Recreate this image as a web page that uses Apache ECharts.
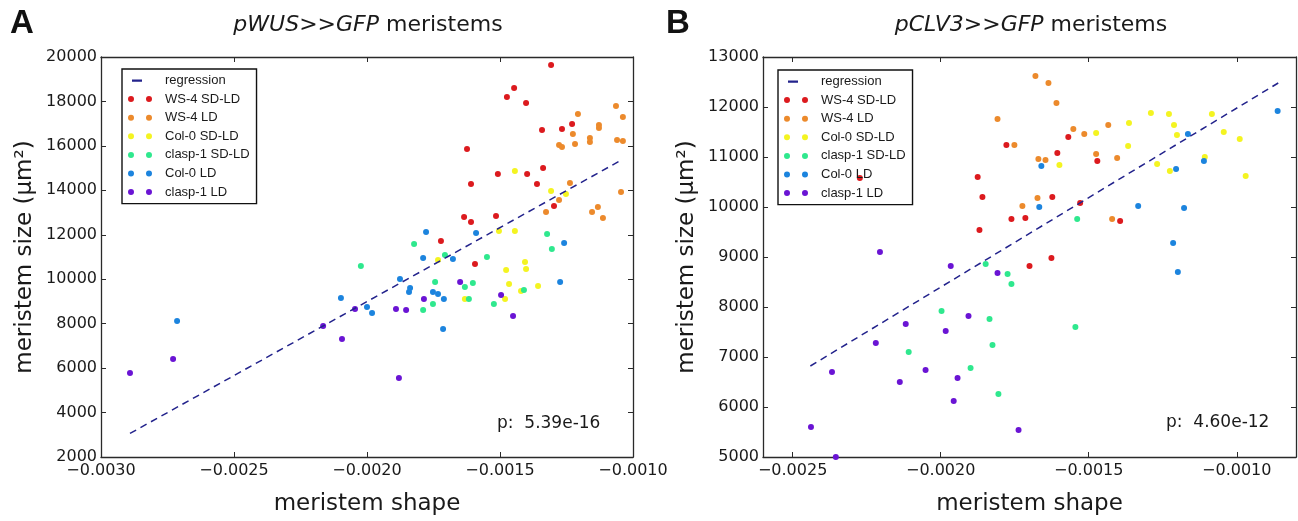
<!DOCTYPE html>
<html>
<head>
<meta charset="utf-8">
<script src="https://cdn.jsdelivr.net/npm/echarts@6/dist/echarts.min.js"></script>
<style>
  html, body { margin: 0; padding: 0; background: #ffffff; }
  #chart { width: 1298px; height: 521px; }
</style>
</head>
<body>
<div id="chart"></div>
<script>
// ---------- data: [meristem shape, meristem size (µm²)] ----------
const seriesNames = ['WS-4 SD-LD', 'WS-4 LD', 'Col-0 SD-LD', 'clasp-1 SD-LD', 'Col-0 LD', 'clasp-1 LD'];
const seriesColors = ['#dc1a1e', '#ec8a2c', '#f4f421', '#2fe88e', '#1c84de', '#6a14d4'];
const regressionColor = '#23238c';

// pWUS>>GFP meristems
const wusWs4SdLd = [[-0.001308,19640],[-0.001447,18605],[-0.001474,18200],[-0.001402,17930],[-0.001229,16985],[-0.001342,16715],[-0.001267,16760],[-0.001624,15860],[-0.001508,14735],[-0.001398,14735],[-0.001338,15005],[-0.001609,14285],[-0.001361,14285],[-0.001297,13295],[-0.001635,12800],[-0.001609,12575],[-0.001515,12845],[-0.001722,11720],[-0.001594,10685]];
const wusWs4Ld = [[-0.001064,17795],[-0.001207,17435],[-0.001038,17300],[-0.001128,16940],[-0.001128,16805],[-0.001226,16535],[-0.001162,16355],[-0.001162,16175],[-0.00106,16265],[-0.001038,16220],[-0.001278,16040],[-0.001267,15950],[-0.001218,16085],[-0.001237,14330],[-0.001045,13925],[-0.001278,13565],[-0.001327,13025],[-0.001154,13025],[-0.001132,13250],[-0.001113,12755]];
const wusCol0SdLd = [[-0.001444,14870],[-0.001308,13970],[-0.001252,13835],[-0.001504,12170],[-0.001444,12170],[-0.001733,10865],[-0.001406,10775],[-0.001477,10415],[-0.001402,10460],[-0.001466,9785],[-0.001357,9695],[-0.001421,9470],[-0.001632,9110],[-0.001481,9110]];
const wusClasp1SdLd = [[-0.001323,12035],[-0.001823,11585],[-0.002023,10595],[-0.001305,11360],[-0.001707,11090],[-0.001549,11000],[-0.001744,9875],[-0.001632,9650],[-0.001602,9830],[-0.00141,9515],[-0.001617,9110],[-0.001523,8885],[-0.001752,8885],[-0.001789,8615]];
const wusCol0Ld = [[-0.001778,12125],[-0.00159,12080],[-0.001259,11630],[-0.002714,8120],[-0.002098,9155],[-0.002,8750],[-0.001981,8480],[-0.001789,10955],[-0.001677,10910],[-0.001876,10010],[-0.001838,9605],[-0.001842,9425],[-0.001274,9875],[-0.001752,9425],[-0.001733,9335],[-0.001711,9110],[-0.001714,7760]];
const wusClasp1Ld = [[-0.002891,5780],[-0.002729,6410],[-0.002165,7895],[-0.002045,8660],[-0.002094,7310],[-0.00165,9875],[-0.001786,9110],[-0.001496,9290],[-0.001891,8660],[-0.001853,8615],[-0.001451,8345],[-0.00188,5555]];
const wusRegression = [[-0.002891,3060],[-0.001038,15400]];
const wusPValue = 'p:  5.39e-16';

// pCLV3>>GFP meristems
const clvWs4SdLd = [[-0.001761,9760],[-0.001714,9780],[-0.001869,9540],[-0.0017,8820],[-0.001569,11400],[-0.001778,11240],[-0.001606,11080],[-0.001471,10920],[-0.001875,10600],[-0.001859,10200],[-0.001623,10200],[-0.001529,10080],[-0.001394,9720],[-0.001626,8980],[-0.002273,10580]];
const clvWs4Ld = [[-0.001724,10020],[-0.00168,12620],[-0.001636,12480],[-0.001609,12080],[-0.001808,11760],[-0.001434,11640],[-0.001552,11560],[-0.001515,11460],[-0.001751,11240],[-0.00167,10960],[-0.001646,10940],[-0.001475,11060],[-0.001404,10980],[-0.001673,10180],[-0.001421,9760]];
const clvCol0SdLd = [[-0.00129,11880],[-0.001229,11860],[-0.001084,11860],[-0.001212,11640],[-0.001364,11680],[-0.001475,11480],[-0.001202,11440],[-0.001044,11500],[-0.00099,11360],[-0.001367,11220],[-0.001599,10840],[-0.001269,10860],[-0.001108,11000],[-0.001226,10720],[-0.00097,10620]];
const clvClasp1SdLd = [[-0.001848,8860],[-0.001774,8660],[-0.001761,8460],[-0.001997,7920],[-0.001835,7760],[-0.001825,7240],[-0.002108,7100],[-0.001899,6780],[-0.001805,6260],[-0.001545,7600],[-0.001539,9760]];
const clvCol0Ld = [[-0.000862,11920],[-0.001165,11460],[-0.00166,10820],[-0.001111,10920],[-0.001205,10760],[-0.001667,10000],[-0.001333,10020],[-0.001178,9980],[-0.001215,9280],[-0.001199,8700]];
const clvClasp1Ld = [[-0.002205,9100],[-0.001966,8820],[-0.001808,8680],[-0.001906,7820],[-0.002118,7660],[-0.001983,7520],[-0.002219,7280],[-0.002367,6700],[-0.002051,6740],[-0.002138,6500],[-0.001943,6580],[-0.001956,6120],[-0.002438,5600],[-0.001737,5540],[-0.002354,5000]];
const clvRegression = [[-0.00244,6820],[-0.00086,12480]];
const clvPValue = 'p:  4.60e-12';

// axis ranges and tick positions
const wusXRange = [-0.0030, -0.0010], wusXStep = 0.0005;
const wusYRange = [2000, 20000], wusYStep = 2000;
const clvXRange = [-0.0026, -0.0008];
const clvXTicks = [-0.0025, -0.0020, -0.0015, -0.0010];
const clvYRange = [5000, 13000], clvYStep = 1000;

// ---------- styling ----------
const FONT = 'DejaVu Sans';
const LEGEND_FONT = 'Liberation Sans';
const frameColor = '#2a2a2a';
const xTickFmt = v => (v < 0 ? '\u2212' : '') + Math.abs(v).toFixed(4);
const yTickFmt = v => String(Math.round(v));

function xAxisPair(grid, range, step, ticks) {
  const base = {
    type: 'value', gridIndex: grid, min: range[0], max: range[1],
    splitLine: { show: false },
    axisLine: { show: true, onZero: false, lineStyle: { color: frameColor, width: 1.3 } }
  };
  if (step) base.interval = step;
  const tick = { show: true, inside: true, length: 5, lineStyle: { color: frameColor, width: 1 } };
  if (ticks) tick.customValues = ticks;
  const label = { show: true, margin: 6, color: '#1a1a1a', fontFamily: FONT, fontSize: 16, formatter: xTickFmt, showMinLabel: true, showMaxLabel: true };
  if (ticks) label.customValues = ticks;
  return [
    Object.assign({}, base, {
      position: 'bottom', axisTick: tick, axisLabel: label,
      name: 'meristem shape', nameLocation: 'middle', nameGap: 36,
      nameTextStyle: { fontFamily: FONT, fontSize: 23, color: '#1a1a1a' }
    }),
    Object.assign({}, base, { position: 'top', axisTick: tick, axisLabel: { show: false } })
  ];
}

function yAxisPair(grid, range, step) {
  const base = {
    type: 'value', gridIndex: grid, min: range[0], max: range[1], interval: step,
    splitLine: { show: false },
    axisLine: { show: true, onZero: false, lineStyle: { color: frameColor, width: 1.3 } },
    axisTick: { show: true, inside: true, length: 5, lineStyle: { color: frameColor, width: 1 } }
  };
  return [
    Object.assign({}, base, {
      position: 'left',
      axisLabel: { show: true, margin: 4, color: '#1a1a1a', fontFamily: FONT, fontSize: 16, formatter: yTickFmt, showMinLabel: true, showMaxLabel: true },
      name: 'meristem size (\u03bcm\u00b2)', nameLocation: 'middle', nameGap: 64, nameRotate: 90,
      nameTextStyle: { fontFamily: FONT, fontSize: 23, color: '#1a1a1a' }
    }),
    Object.assign({}, base, { position: 'right', axisLabel: { show: false } })
  ];
}

function scatter(name, data, color, axis) {
  return {
    type: 'scatter', name: name, data: data,
    xAxisIndex: axis, yAxisIndex: axis,
    symbol: 'circle', symbolSize: 6,
    itemStyle: { color: color, opacity: 1, borderWidth: 0 },
    emphasis: { disabled: true }, z: 3
  };
}

function regression(data, axis) {
  return {
    type: 'line', name: 'regression', data: data,
    xAxisIndex: axis, yAxisIndex: axis,
    showSymbol: false, symbol: 'none',
    lineStyle: { color: regressionColor, width: 1.5, type: [7, 5] },
    itemStyle: { color: regressionColor },
    emphasis: { disabled: true }, z: 4
  };
}

// legend glyphs: two dots per scatter entry, a short dash for the regression
const dotsIcon = 'path://M0,3a3,3 0 1,0 6,0a3,3 0 1,0 -6,0ZM18,3a3,3 0 1,0 6,0a3,3 0 1,0 -6,0ZM31.99,0L32,0L32,0.01ZM31.99,6L32,6L32,5.99Z';
const dashIcon = 'path://M0,0L0.01,0L0,0.01ZM4,2L14,2L14,4.2L4,4.2ZM31.99,6L32,6L32,5.99Z';

function legendAt(left, top) {
  return {
    orient: 'vertical', left: left, top: top,
    itemWidth: 32, itemHeight: 6, itemGap: 5.6,
    padding: [5, 7, 5, 6],
    borderColor: '#111', borderWidth: 1.4, borderRadius: 0,
    backgroundColor: 'rgba(255,255,255,0)',
    selectedMode: false,
    itemStyle: { borderWidth: 0 },
    textStyle: { fontFamily: LEGEND_FONT, fontSize: 13, lineHeight: 13, color: '#1a1a1a' },
    data: [{ name: 'regression', icon: dashIcon, itemStyle: { color: regressionColor, borderWidth: 0 } }]
      .concat(seriesNames.map((n, i) => ({ name: n, icon: dotsIcon, itemStyle: { color: seriesColors[i], borderWidth: 0 } })))
  };
}

const wusSets = [wusWs4SdLd, wusWs4Ld, wusCol0SdLd, wusClasp1SdLd, wusCol0Ld, wusClasp1Ld];
const clvSets = [clvWs4SdLd, clvWs4Ld, clvCol0SdLd, clvClasp1SdLd, clvCol0Ld, clvClasp1Ld];

const xWus = xAxisPair(0, wusXRange, wusXStep, null);
const xClv = xAxisPair(1, clvXRange, null, clvXTicks);
const yWus = yAxisPair(0, wusYRange, wusYStep);
const yClv = yAxisPair(1, clvYRange, clvYStep);

// axis indices: 0 = panel A main, 2 = panel B main (1 and 3 are the frame's top/right)
const series = []
  .concat(wusSets.map((d, i) => scatter(seriesNames[i], d, seriesColors[i], 0)))
  .concat([regression(wusRegression, 0)])
  .concat(clvSets.map((d, i) => scatter(seriesNames[i], d, seriesColors[i], 2)))
  .concat([regression(clvRegression, 2)]);

function titleText(x, italicPart, rest) {
  return {
    type: 'text', x: x, y: 25, z: 10,
    style: {
      text: '{i|' + italicPart + '}{n| ' + rest + '}',
      align: 'center', verticalAlign: 'middle',
      rich: {
        i: { fontFamily: FONT, fontSize: 22, fontStyle: 'italic', fill: '#1a1a1a' },
        n: { fontFamily: FONT, fontSize: 22, fill: '#1a1a1a' }
      }
    }
  };
}

const option = {
  backgroundColor: '#ffffff',
  animation: false,
  grid: [
    { left: 101, top: 57, width: 532, height: 400 },
    { left: 763, top: 57, width: 533, height: 400 }
  ],
  xAxis: [xWus[0], xWus[1], xClv[0], xClv[1]],
  yAxis: [yWus[0], yWus[1], yClv[0], yClv[1]],
  legend: [legendAt(122, 69), legendAt(778, 70)],
  series: series,
  graphic: [
    { type: 'text', x: 10, y: 7, z: 10, style: { text: 'A', fontFamily: LEGEND_FONT, fontSize: 33, fontWeight: 'bold', fill: '#111' } },
    { type: 'text', x: 666, y: 7, z: 10, style: { text: 'B', fontFamily: LEGEND_FONT, fontSize: 33, fontWeight: 'bold', fill: '#111' } },
    titleText(368, 'pWUS>>GFP', 'meristems'),
    titleText(1031, 'pCLV3>>GFP', 'meristems'),
    { type: 'text', x: 497, y: 424, z: 10, style: { text: wusPValue, fontFamily: FONT, fontSize: 17, fill: '#1a1a1a', verticalAlign: 'middle' } },
    { type: 'text', x: 1166, y: 423, z: 10, style: { text: clvPValue, fontFamily: FONT, fontSize: 17, fill: '#1a1a1a', verticalAlign: 'middle' } }
  ]
};

const chart = echarts.init(document.getElementById('chart'), null, { renderer: 'canvas' });
chart.setOption(option);
</script>
</body>
</html>
